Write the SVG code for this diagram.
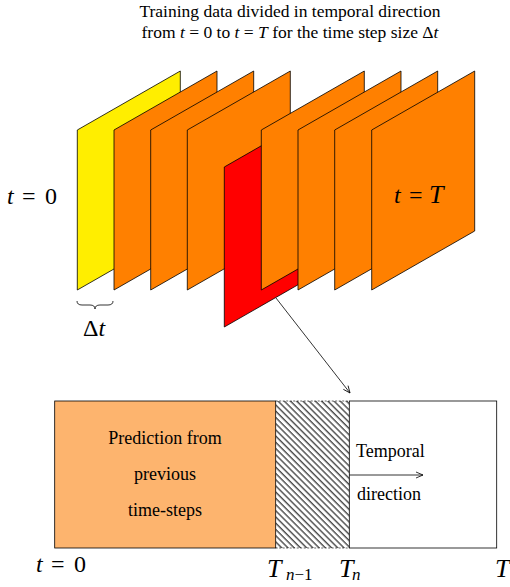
<svg xmlns="http://www.w3.org/2000/svg" width="510" height="587" viewBox="0 0 510 587">
<style>
  text { font-family: "Liberation Serif", "Times New Roman", "DejaVu Serif", serif; fill: #000; }
  .plane { stroke: #000; stroke-width: 0.8; }
  .or { fill: #FF8000; }
  .it { font-style: italic; }
  .lbl { font-size: 24px; }
  .bigT { font-size: 26px; font-style: italic; }
  .small { font-size: 18px; }
  .cap { font-size: 17.5px; }
</style>
<defs>
  <pattern id="hatch" width="4.4" height="4.4" patternUnits="userSpaceOnUse" patternTransform="rotate(-45)">
    <line x1="1" y1="0" x2="1" y2="4.4" stroke="#000" stroke-width="1"/>
  </pattern>
  <marker id="arr" markerWidth="10" markerHeight="10" refX="8" refY="4" orient="auto" markerUnits="userSpaceOnUse">
    <path d="M1,1 L8,4 L1,7" fill="none" stroke="#000" stroke-width="0.8"/>
  </marker>
</defs>

<text class="cap" x="290" y="17" text-anchor="middle">Training data divided in temporal direction</text>
<text class="cap" x="290" y="38" text-anchor="middle">from <tspan class="it">t</tspan> = 0 to <tspan class="it">t</tspan> = <tspan class="it">T</tspan>  for the time step size Δ<tspan class="it">t</tspan></text>

<g id="planes">
  <path id="p0" class="plane" fill="#FFEE00" d="M77.3,130 L180.3,71 L180.3,231 L77.3,290 Z"/>
  <path id="p1" class="plane or" d="M114,130 L217,71 L217,231 L114,290 Z"/>
  <path id="p2" class="plane or" d="M150.7,130 L253.7,71 L253.7,231 L150.7,290 Z"/>
  <path id="p3" class="plane or" d="M187.3,130 L290.3,71 L290.3,231 L187.3,290 Z"/>
  <path id="p4" class="plane" fill="#FF0000" d="M224.3,167 L327.3,108 L327.3,268 L224.3,327 Z"/>
  <path id="p5" class="plane or" d="M261.3,130 L364.3,71 L364.3,231 L261.3,290 Z"/>
  <path id="p6" class="plane or" d="M298,130 L401,71 L401,231 L298,290 Z"/>
  <path id="p7" class="plane or" d="M334.7,130 L437.7,71 L437.7,231 L334.7,290 Z"/>
  <path id="p8" class="plane or" d="M371.7,130 L474.7,71 L474.7,231 L371.7,290 Z"/>
</g>

<text class="lbl" y="204"><tspan class="it" x="7">t</tspan><tspan x="22">=</tspan><tspan x="45">0</tspan></text>
<text class="lbl" y="203"><tspan class="it" x="394">t</tspan><tspan x="409">=</tspan><tspan class="bigT" x="429">T</tspan></text>

<g id="brace">
  <path d="M77,301 q0,4 5,4 h8 q5,0 5,4 q0,-4 5,-4 h8 q5,0 5,-4" fill="none" stroke="#000" stroke-width="0.8"/>
  <text class="lbl" x="83" y="336">Δ<tspan class="it">t</tspan></text>
</g>

<g id="box">
  <rect x="349.3" y="401" width="147.4" height="147" fill="#fff" stroke="#000" stroke-width="0.8"/>
  <rect x="275.7" y="401" width="73.6" height="147" fill="url(#hatch)"/>
  <line x1="275.7" y1="401" x2="349.3" y2="401" stroke="#000" stroke-width="0.6" stroke-dasharray="2,1.5"/>
  <line x1="275.7" y1="548" x2="349.3" y2="548" stroke="#000" stroke-width="0.6" stroke-dasharray="2,1.5"/>
  <rect x="54.7" y="401" width="221" height="147" fill="#FDB46E" stroke="#000" stroke-width="0.8"/>
  <text class="small" x="165" y="444" text-anchor="middle">Prediction from</text>
  <text class="small" x="165" y="480" text-anchor="middle">previous</text>
  <text class="small" x="165" y="516" text-anchor="middle">time-steps</text>
  <text class="small" x="356" y="457">Temporal</text>
  <text class="small" x="357" y="500">direction</text>
</g>

<g id="connectors">
  <line x1="276" y1="298" x2="350" y2="393" stroke="#000" stroke-width="0.8" marker-end="url(#arr)"/>
  <line x1="349.3" y1="475" x2="423" y2="475" stroke="#000" stroke-width="0.8" marker-end="url(#arr)"/>
</g>

<text class="lbl" y="572"><tspan class="it" x="36">t</tspan><tspan x="51">=</tspan><tspan x="74">0</tspan></text>
<text class="bigT" x="267" y="577">T<tspan font-size="17" x="286" dy="3">n</tspan><tspan font-size="17" font-style="normal">−1</tspan></text>
<text class="bigT" x="339" y="577">T<tspan font-size="17" x="352" dy="3">n</tspan></text>
<text class="bigT" x="495" y="577">T</text>
</svg>
